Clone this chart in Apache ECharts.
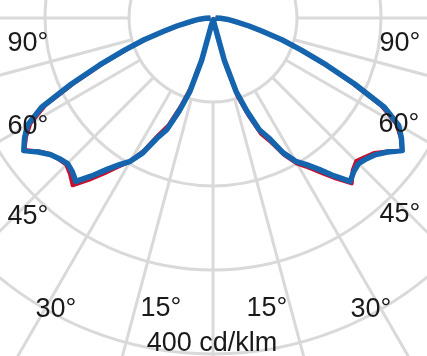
<!DOCTYPE html>
<html>
<head>
<meta charset="utf-8">
<script src="https://cdn.jsdelivr.net/npm/echarts@6/dist/echarts.min.js"></script>
<style>
  html, body { margin: 0; padding: 0; background: #fff; }
  #chart { width: 427px; height: 356px; }
</style>
</head>
<body>
<div id="chart"></div>
<script>
// gamma angles (deg), 0 = straight down
const angles = [0, 2.5, 5, 7.5, 10, 12.5, 15, 17.5, 20, 22.5, 25, 27.5, 30, 32.5, 35, 37.5, 40, 42.5, 45,
  47.5, 50, 52.5, 55, 57.5, 60, 62.5, 65, 67.5, 70, 72.5, 75, 77.5, 80, 82.5, 85, 87.5, 90]
// cd/klm, blue curve (same both sides)
const blueI = [0, 0, 1, 1, 2, 8, 52, 92, 118, 144, 158, 181, 197, 207, 220, 237, 254, 248, 245,
  248, 253, 262, 275, 266, 255, 230, 186, 146, 112, 86, 60, 44, 30, 22, 16, 9, 3]
// red curve, left and right half
const redLeft = [0, 0, 1, 1, 2, 6, 46, 86, 112, 138, 154, 178, 197, 210, 226, 243, 260, 252, 247,
  249, 252, 261, 274, 264, 251, 225, 181, 142, 109, 84, 59, 43, 29, 21, 15, 9, 3]
const redRight = [0, 0, 1, 1, 2, 10, 57, 98, 123, 149, 163, 184, 200, 211, 225, 241, 257, 246, 241,
  245, 250, 261, 275, 265, 252, 226, 182, 143, 110, 85, 59, 43, 30, 22, 16, 9, 3]
// grid
const spokeAngles = [-90, -75, -60, -45, -30, -15, 0, 15, 30, 45, 60, 75, 90]
const angleLabels = ['90°', '60°', '45°', '30°', '15°']
const scaleLabel = '400 cd/klm'

const FONT = '"Liberation Sans", Arial, sans-serif'
const GRID = '#d9d9d9'

// right side negative angles, left side positive; path runs 90 right -> 0 -> 90 left
function curve(rightVals, leftVals) {
  const pts = []
  for (let i = angles.length - 1; i > 0; i--) pts.push([rightVals[i], -angles[i]])
  for (let i = 0; i < angles.length; i++) pts.push([leftVals[i], angles[i]])
  return pts
}

const spokeSeries = spokeAngles.map(a => ({
  type: 'line',
  coordinateSystem: 'polar',
  data: [[100, a], [500, a]],
  symbol: 'none',
  silent: true,
  lineStyle: { color: GRID, width: 3 },
  z: 1
}))

// label centres in px
const labelPos = [
  [[28, 44], [400, 44]],
  [[28, 127], [399, 125]],
  [[28, 217], [400, 215]],
  [[56, 310], [371, 310]],
  [[161, 309], [267, 309]]
]
const texts = []
angleLabels.forEach((t, i) => {
  labelPos[i].forEach(p => {
    texts.push({
      type: 'text', x: p[0], y: p[1], z: 10,
      style: { text: t, font: '27px ' + FONT, fill: '#1a1a1a', textAlign: 'center', textVerticalAlign: 'middle' }
    })
  })
})
texts.push({
  type: 'text', x: 212, y: 344, z: 10,
  style: { text: scaleLabel, font: '27px ' + FONT, fill: '#1a1a1a', textAlign: 'center', textVerticalAlign: 'middle' }
})

const chart = echarts.init(document.getElementById('chart'), null, { renderer: 'canvas' })
chart.setOption({
  animation: false,
  polar: { center: [213, 18], radius: 420 },
  angleAxis: {
    type: 'value', min: -180, max: 180, startAngle: 90, clockwise: true,
    axisLine: { show: false }, axisTick: { show: false }, axisLabel: { show: false },
    splitLine: { show: false }
  },
  radiusAxis: {
    type: 'value', min: 0, max: 500, interval: 100,
    axisLine: { show: false }, axisTick: { show: false }, axisLabel: { show: false },
    splitLine: { show: true, lineStyle: { color: GRID, width: 3 } }
  },
  series: spokeSeries.concat([
    {
      name: 'red', type: 'line', coordinateSystem: 'polar',
      data: curve(redRight, redLeft), symbol: 'none', clip: false,
      lineStyle: { color: '#c8102e', width: 4, join: 'round' }, z: 3
    },
    {
      name: 'blue', type: 'line', coordinateSystem: 'polar',
      data: curve(blueI, blueI), symbol: 'none', clip: false,
      lineStyle: { color: '#1565ae', width: 5.5, join: 'round' }, z: 4
    }
  ]),
  graphic: texts
})
</script>
</body>
</html>
